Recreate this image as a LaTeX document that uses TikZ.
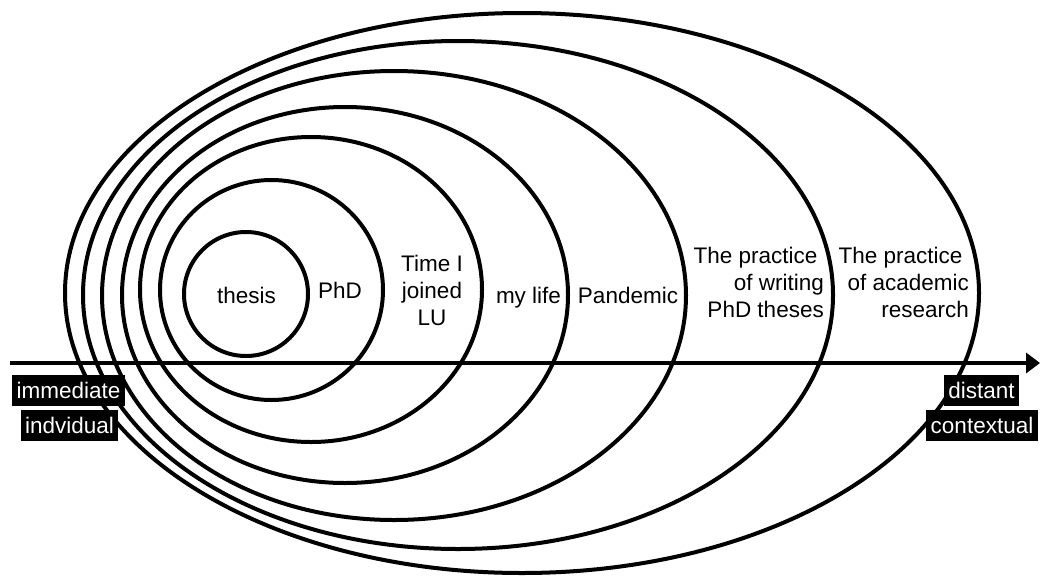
\documentclass[tikz,border=0pt]{standalone}
\usepackage{fontspec}
\setmainfont{Liberation Sans}
\usetikzlibrary{arrows.meta}
\begin{document}
\begin{tikzpicture}[x=1pt,y=-1pt,
  ring/.style={line width=4pt},
  lbl/.style={inner sep=0pt, font=\fontsize{22.5}{27}\selectfont},
  tag/.style={fill=black, text=white, inner xsep=4.5pt, inner ysep=0pt,
    minimum height=31pt, text height=16pt, text depth=0pt,
    font=\fontsize{22.5}{27}\selectfont},
  axis/.style={line width=4pt, -{Triangle[length=14pt,width=20pt]}}]
\useasboundingbox (0,0) rectangle (1040,576);
\fill[white] (0,0) rectangle (1040,576);
% rings
\draw[ring] (246,294) ellipse [x radius=62pt, y radius=62pt];
\draw[ring] (271.5,290) ellipse [x radius=111.5pt, y radius=110pt];
\draw[ring] (311,289.5) ellipse [x radius=171pt, y radius=152.5pt];
\draw[ring] (345,295) ellipse [x radius=223pt, y radius=188pt];
\draw[ring] (394,295.5) ellipse [x radius=292pt, y radius=224.5pt];
\draw[ring] (458,295) ellipse [x radius=375pt, y radius=254pt];
\draw[ring] (522,293) ellipse [x radius=457pt, y radius=280pt];
% axis
\coordinate (astart) at (10,363);
\coordinate (aend) at (1040,363);
\draw[axis] (astart) -- (aend);
% labels
\node[lbl, anchor=base] (thesis) at (246.5,303) {thesis};
\node[lbl, anchor=base] (phd) at (340,298) {PhD};
\node[lbl, align=center] (time) at (432,290) {Time I\\joined\\LU};
\node[lbl, anchor=base] (life) at (528.5,303) {my life};
\node[lbl, anchor=base] (pandemic) at (628,303) {Pandemic};
\node[lbl, align=right, anchor=east] (writing) at (824,282) {The practice\kern0.28em\\of writing\\PhD theses};
\node[lbl, align=right, anchor=east] (academic) at (969,282) {The practice\kern0.28em\\of academic\\research};
% tags
\node[tag] (immediate) at (68.5,390.5) {immediate};
\node[tag] (indvidual) at (69.5,425.5) {indvidual};
\node[tag] (distant) at (981.5,390.5) {distant};
\node[tag] (contextual) at (982,425.5) {contextual};
\end{tikzpicture}
\end{document}
